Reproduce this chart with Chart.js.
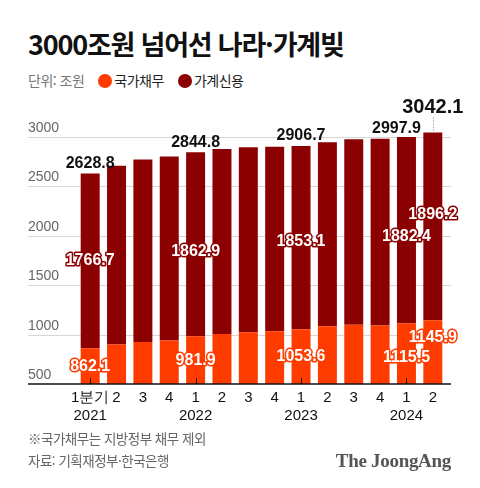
<!DOCTYPE html>
<html lang="ko">
<head>
<meta charset="utf-8">
<script src="https://cdn.jsdelivr.net/npm/chart.js@4.4.1/dist/chart.umd.min.js"></script>
<style>
  html, body { margin:0; padding:0; background:#fff; }
  #wrap { position:relative; width:480px; height:488px; overflow:hidden; font-family:"Noto Sans CJK KR", "Noto Sans", sans-serif; }
  #chart { position:absolute; left:0; top:0; }
  .title { position:absolute; left:28px; top:24px; font-size:27px; font-weight:700; letter-spacing:-1.2px; color:#111; white-space:nowrap; }
  .sub { position:absolute; left:28px; top:70px; font-size:14px; color:#777; white-space:nowrap; letter-spacing:-0.5px; }
  .sub span.dot { display:inline-block; width:14px; height:14px; border-radius:50%; vertical-align:-2px; margin-right:2px; }
  .sub span.item { color:#222; margin-left:14px; }
  .note { position:absolute; left:28px; font-size:13.5px; color:#666; white-space:nowrap; letter-spacing:-0.5px; }
  .brand { position:absolute; right:29px; top:450px; font-family:"Liberation Serif", "DejaVu Serif", serif; font-weight:700; font-size:19px; color:#555; letter-spacing:-0.3px; }
</style>
</head>
<body>
<div id="wrap">
  <div class="title">3000조원 넘어선 나라·가계빚</div>
  <div class="sub">단위: 조원<span class="item"><span class="dot" style="background:#ff3c00"></span>국가채무</span><span class="item"><span class="dot" style="background:#8b0000"></span>가계신용</span></div>
  <canvas id="chart" width="480" height="488"></canvas>
  <div class="note" style="top:428px">※국가채무는 지방정부 채무 제외</div>
  <div class="note" style="top:450px">자료: 기획재정부·한국은행</div>
  <div class="brand">The JoongAng</div>
</div>
<script>
// quarters 2021 Q1 ~ 2024 Q2
const quarterLabels = ['1분기','2','3','4','1','2','3','4','1','2','3','4','1','2'];
const yearLabels = ['2021','','','','2022','','','','2023','','','','2024',''];
const nationalDebt = [862.1, 900, 925, 939.1, 981.9, 1006, 1023, 1033.4, 1053.6, 1083, 1100, 1092.5, 1115.5, 1145.9];
const householdCredit = [1766.7, 1805.9, 1844.9, 1862.1, 1862.9, 1869.4, 1870.6, 1867.0, 1853.1, 1862.8, 1875.6, 1886.4, 1882.4, 1896.2];
const yTicks = [500, 1000, 1500, 2000, 2500, 3000];
const labelled = [0, 4, 8, 12, 13];

const DEBT = '#ff3c00', HOUSE = '#8b0000';
const NUM_FONT = '"Liberation Sans", Arial, sans-serif';

const labels = quarterLabels.map((q, i) => yearLabels[i] ? [q, yearLabels[i]] : q);
const totals = nationalDebt.map((d, i) => +(d + householdCredit[i]).toFixed(1));

// label tweaks (px) for crowded last bars
const innerShift = {12: {debt: 4, house: 7}, 13: {debt: -14, house: -12}, 4: {debt: 0, house: 7}, 8: {debt: 0, house: 4}};

const decor = {
  id: 'decor',
  beforeDatasetsDraw(chart) {
    const c = chart.ctx, y = chart.scales.y;
    c.save();
    c.strokeStyle = '#d6d6d6'; c.lineWidth = 1;
    c.fillStyle = '#666'; c.font = '14px ' + NUM_FONT;
    c.textAlign = 'left'; c.textBaseline = 'middle';
    yTicks.forEach(v => {
      const py = Math.round(y.getPixelForValue(v)) + 0.5;
      if (v > 500) { c.beginPath(); c.moveTo(28, py); c.lineTo(451, py); c.stroke(); }
      c.fillText(String(v), 28, py - 9);
    });
    c.restore();
  },
  afterDatasetsDraw(chart) {
    const c = chart.ctx, x = chart.scales.x, y = chart.scales.y;
    const base = y.getPixelForValue(500);
    c.save();
    // axis line + ticks
    c.strokeStyle = '#111'; c.lineWidth = 1.5;
    c.beginPath(); c.moveTo(28, base); c.lineTo(451, base); c.stroke();
    c.lineWidth = 1;
    yearLabels.forEach((yr, i) => {
      if (!yr) return;
      const px = Math.round(x.getPixelForValue(i)) + 0.5;
      c.beginPath(); c.moveTo(px, base); c.lineTo(px, base - 6); c.stroke();
    });
    c.textAlign = 'center'; c.textBaseline = 'middle';
    c.lineJoin = 'round';
    labelled.forEach(i => {
      const px = x.getPixelForValue(i);
      const sh = innerShift[i] || {debt: 0, house: 0};
      // debt label: middle of visible orange part
      const dy = (y.getPixelForValue(500) + y.getPixelForValue(nationalDebt[i])) / 2 + sh.debt;
      // household label: middle of dark red part
      const hy = (y.getPixelForValue(nationalDebt[i]) + y.getPixelForValue(totals[i])) / 2 + sh.house;
      c.font = 'bold 16px ' + NUM_FONT;
      c.lineWidth = 3;
      c.strokeStyle = DEBT; c.strokeText(nationalDebt[i].toFixed(1), px, dy);
      c.fillStyle = '#fff'; c.fillText(nationalDebt[i].toFixed(1), px, dy);
      c.strokeStyle = HOUSE; c.strokeText(householdCredit[i].toFixed(1), px, hy);
      c.fillStyle = '#fff'; c.fillText(householdCredit[i].toFixed(1), px, hy);
      // total on top
      const ty = y.getPixelForValue(totals[i]);
      c.fillStyle = '#111';
      if (i === 13) {
        c.font = 'bold 20px ' + NUM_FONT;
        c.fillText(totals[i].toFixed(1), px, ty - 25);
        c.strokeStyle = '#777'; c.lineWidth = 1; c.setLineDash([1, 2]);
        c.beginPath(); c.moveTo(Math.round(px) + 0.5, ty - 15); c.lineTo(Math.round(px) + 0.5, ty); c.stroke();
        c.setLineDash([]);
      } else {
        c.font = 'bold 16px ' + NUM_FONT;
        c.fillText(totals[i].toFixed(1), px + (i === 12 ? -10 : 0), ty - (i === 12 ? 8 : 10));
      }
    });
    c.restore();
  }
};

new Chart(document.getElementById('chart'), {
  type: 'bar',
  data: {
    labels,
    datasets: [
      { label: '국가채무', data: nationalDebt, backgroundColor: DEBT, barPercentage: 0.72, categoryPercentage: 1 },
      { label: '가계신용', data: householdCredit, backgroundColor: HOUSE, barPercentage: 0.72, categoryPercentage: 1 }
    ]
  },
  options: {
    responsive: false, animation: false,
    layout: { padding: { left: 77, right: 34, top: 117, bottom: 60 } },
    plugins: { legend: { display: false }, tooltip: { enabled: false } },
    scales: {
      x: {
        stacked: true,
        grid: { display: false, drawTicks: false },
        border: { display: false },
        ticks: { color: '#111', font: { size: 15, family: NUM_FONT }, padding: 5, maxRotation: 0, autoSkip: false },
        afterFit(s) { s.height = 44; }
      },
      y: { stacked: true, display: false, min: 500, max: 3200 }
    }
  },
  plugins: [decor]
});
</script>
</body>
</html>
